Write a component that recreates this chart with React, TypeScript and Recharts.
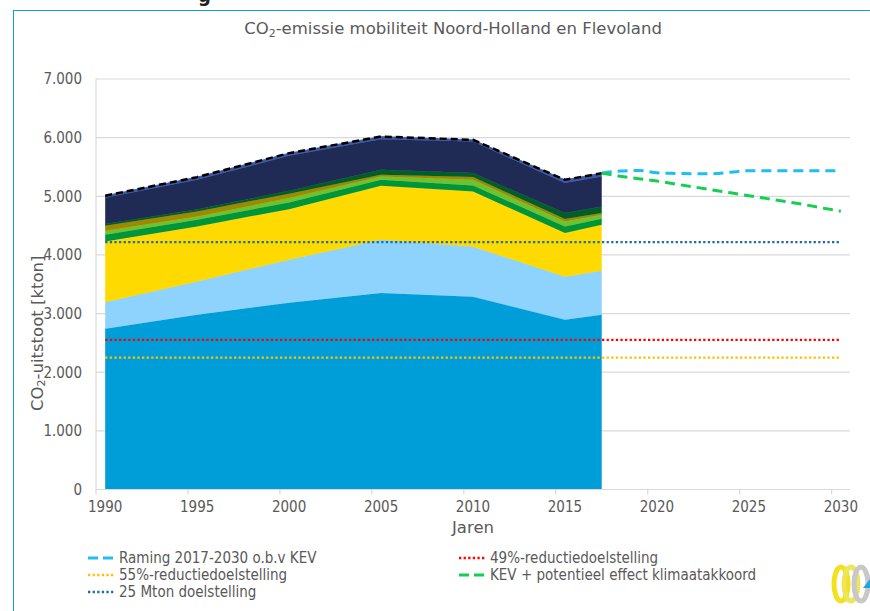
import React from 'react';
import { ComposedChart, Area, Line, XAxis, YAxis, CartesianGrid } from 'recharts';

// ---- data ----
const historicYears = [1990, 1995, 2000, 2005, 2010, 2015, 2017];
const projectionYears = [2017, 2018, 2019, 2020, 2021, 2022, 2023, 2024, 2025, 2026, 2027, 2028, 2029, 2030];
const labelYears = [1990, 1995, 2000, 2005, 2010, 2015, 2020, 2025, 2030];
const xDomain = [1989.5, 2030.5];
const yTicks = [0, 1000, 2000, 3000, 4000, 5000, 6000, 7000];

const laag1 = [2743, 2980, 3185, 3350, 3288, 2896, 2981];
const laag2 = [448, 569, 733, 909, 852, 734, 749];
const laag3 = [1039, 937, 863, 920, 943, 742, 784];
const laag4 = [114, 114, 113, 102, 101, 114, 103];
const laag5 = [68, 57, 75, 56, 97, 85, 68];
const laag6 = [85, 85, 74, 29, 46, 40, 28];
const laag7 = [29, 39, 51, 85, 68, 102, 114];
const laag8 = [450, 500, 596, 523, 539, 512, 511];
const laag9 = [34, 46, 46, 45, 29, 56, 57];

const raming = [5395, 5430, 5440, 5400, 5390, 5385, 5385, 5410, 5435, 5435, 5435, 5435, 5435, 5435];
const kevKlimaat = [5395, 5340, 5300, 5260, 5210, 5160, 5110, 5060, 5010, 4960, 4910, 4860, 4800, 4745];

const doel49 = 2550;
const doel55 = 2250;
const doel25Mton = 4220;

const legendItems = [
  { key: 'raming', name: 'Raming 2017-2030 o.b.v KEV' },
  { key: 'doel49', name: '49%-reductiedoelstelling' },
  { key: 'doel55', name: '55%-reductiedoelstelling' },
  { key: 'kev', name: 'KEV + potentieel effect klimaatakkoord' },
  { key: 'doel25', name: '25 Mton doelstelling' },
];

// ---- styles ----
const layers = [
  { key: 'laag1', values: laag1, color: '#009ED8' },
  { key: 'laag2', values: laag2, color: '#8DD3FD' },
  { key: 'laag3', values: laag3, color: '#FFDA00' },
  { key: 'laag4', values: laag4, color: '#00953A' },
  { key: 'laag5', values: laag5, color: '#6EC22E' },
  { key: 'laag6', values: laag6, color: '#A08800' },
  { key: 'laag7', values: laag7, color: '#005F28' },
  { key: 'laag8', values: laag8, color: '#1F2A55' },
  { key: 'laag9', values: laag9, color: '#3B57A6' },
];

const lineStyles: Record<string, { color: string; dash: string; width: number }> = {
  raming: { color: '#1EBEF2', dash: '10 6', width: 3 },
  kev: { color: '#14D050', dash: '10 6', width: 3 },
  doel49: { color: '#FF0000', dash: '2.3 2.3', width: 2.3 },
  doel55: { color: '#FFC000', dash: '2.3 2.3', width: 2.3 },
  doel25: { color: '#1F6E9E', dash: '2.3 2.3', width: 2.3 },
};

const allYears = Array.from(new Set([...historicYears, ...projectionYears])).sort((a, b) => a - b);

const rows = allYears.map((year) => {
  const hi = historicYears.indexOf(year);
  const pi = projectionYears.indexOf(year);
  const row: Record<string, number | null> = { year };
  let total = 0;
  layers.forEach((l) => {
    const v = hi >= 0 ? l.values[hi] : null;
    row[l.key] = v;
    if (v != null) total += v;
  });
  row.totaal = hi >= 0 ? total : null;
  row.raming = pi >= 0 ? raming[pi] : null;
  row.kev = pi >= 0 ? kevKlimaat[pi] : null;
  row.doel49 = doel49;
  row.doel55 = doel55;
  row.doel25 = doel25Mton;
  return row;
});

const FONT = '"DejaVu Sans Condensed", "DejaVu Sans", sans-serif';
const FONT_WIDE = '"DejaVu Sans", sans-serif';
const TEXT = '#595959';
const GRID = '#D9D9D9';
const X_TICK_SIZE = 6;
const X_TICK_MARGIN = 6;

const fmt = (v: number) => String(v).replace(/\B(?=(\d{3})+(?!\d))/g, '.');

const XTick = (props: any) => {
  const { x, y, payload } = props;
  const axisWidth = typeof props.width === 'number' && props.width > 0 ? props.width : 754;
  const half = axisWidth / (xDomain[1] - xDomain[0]) / 2;
  const axisY = y - X_TICK_SIZE - X_TICK_MARGIN;
  return (
    <g>
      <line x1={x - half} x2={x - half} y1={axisY} y2={axisY + 5} stroke={GRID} strokeWidth={1.2} />
      <text x={x} y={y} dy="0.71em" textAnchor="middle" fill={TEXT} fontSize={15} fontFamily={FONT}>
        {payload.value}
      </text>
    </g>
  );
};

const YLabel = (props: any) => {
  const vb = props.viewBox || { x: 0, y: 0, width: 0, height: 0 };
  const cx = vb.x + 37;
  const cy = vb.y + vb.height / 2 + 49;
  return (
    <text
      x={cx}
      y={cy}
      transform={`rotate(-90 ${cx} ${cy})`}
      textAnchor="middle"
      dominantBaseline="central"
      fill={TEXT}
      fontSize={16.5}
      fontFamily={FONT_WIDE}
    >
      CO<tspan fontSize={11} dy={4}>2</tspan>
      <tspan dy={-4}>-uitstoot [kton]</tspan>
    </text>
  );
};

const XLabel = (props: any) => {
  const vb = props.viewBox || { x: 0, y: 0, width: 0, height: 0 };
  return (
    <text x={vb.x + vb.width / 2} y={vb.y + 43} textAnchor="middle" fill={TEXT} fontSize={16.5} fontFamily={FONT_WIDE}>
      Jaren
    </text>
  );
};

const LegendIcon = ({ k }: { k: string }) => {
  const s = lineStyles[k];
  return (
    <svg width={30} height={10} style={{ display: 'block', marginRight: 2 }}>
      <line x1={1} y1={5} x2={28} y2={5} stroke={s.color} strokeWidth={s.width} strokeDasharray={s.dash === '10 6' ? '10 5' : s.dash} />
    </svg>
  );
};

const LegendRow = ({ item }: { item: { key: string; name: string } }) => (
  <div style={{ display: 'flex', alignItems: 'center', height: 17 }}>
    <LegendIcon k={item.key} />
    <span>{item.name}</span>
  </div>
);

export default function App() {
  const col1 = [legendItems[0], legendItems[2], legendItems[4]];
  const col2 = [legendItems[1], legendItems[3]];
  return (
    <div
      style={{
        position: 'absolute',
        left: 0,
        top: 0,
        width: 870,
        height: 611,
        background: '#fff',
        overflow: 'hidden',
        fontFamily: FONT,
        color: TEXT,
      }}
    >
      {/* clipped heading fragment from the page above */}
      <div style={{ position: 'absolute', left: 198, top: -17, fontSize: 20, fontWeight: 'bold', color: '#222', fontFamily: FONT }}>g</div>
      {/* frame */}
      <div style={{ position: 'absolute', left: 13, top: 10, width: 870, height: 620, borderLeft: '1.5px solid #0AA0DC', borderTop: '1.5px solid #0AA0DC' }} />

      <div style={{ position: 'absolute', left: 0, top: 0 }}>
        <ComposedChart width={870} height={611} data={rows} margin={{ top: 79, right: 20, left: 0, bottom: 81.5 }}>
          <CartesianGrid vertical={false} stroke={GRID} strokeWidth={1.2} />
          <XAxis
            dataKey="year"
            type="number"
            domain={xDomain}
            ticks={labelYears}
            height={40}
            axisLine={{ stroke: GRID, strokeWidth: 1.2 }}
            tickLine={false}
            tickSize={X_TICK_SIZE}
            tickMargin={X_TICK_MARGIN}
            interval={0}
            tick={<XTick />}
            label={{ content: XLabel }}
          />
          <YAxis
            domain={[0, 7000]}
            ticks={yTicks}
            width={96}
            tickFormatter={fmt}
            axisLine={{ stroke: GRID, strokeWidth: 1.2 }}
            tickLine={false}
            tickSize={6}
            tickMargin={8}
            tick={{ fill: TEXT, fontSize: 15, fontFamily: FONT }}
            label={{ content: YLabel }}
          />
          <YAxis
            yAxisId="right"
            orientation="right"
            width={0}
            domain={[0, 7000]}
            tick={false}
            tickLine={false}
            axisLine={{ stroke: GRID, strokeWidth: 2 }}
          />
          {layers.map((l) => (
            <Area
              key={l.key}
              dataKey={l.key}
              stackId="hist"
              type="linear"
              fill={l.color}
              fillOpacity={1}
              stroke={l.color}
              strokeWidth={0.8}
              isAnimationActive={false}
              dot={false}
              activeDot={false}
            />
          ))}
          <Line dataKey="totaal" type="linear" stroke="#000" strokeWidth={2.5} strokeDasharray="7 4" dot={false} activeDot={false} isAnimationActive={false} />
          <Line dataKey="raming" type="monotone" stroke={lineStyles.raming.color} strokeWidth={3} strokeDasharray={lineStyles.raming.dash} dot={false} activeDot={false} isAnimationActive={false} />
          <Line dataKey="kev" type="linear" stroke={lineStyles.kev.color} strokeWidth={3} strokeDasharray={lineStyles.kev.dash} dot={false} activeDot={false} isAnimationActive={false} />
          <Line dataKey="doel49" type="linear" stroke={lineStyles.doel49.color} strokeWidth={lineStyles.doel49.width} strokeDasharray={lineStyles.doel49.dash} dot={false} activeDot={false} isAnimationActive={false} />
          <Line dataKey="doel55" type="linear" stroke={lineStyles.doel55.color} strokeWidth={lineStyles.doel55.width} strokeDasharray={lineStyles.doel55.dash} dot={false} activeDot={false} isAnimationActive={false} />
          <Line dataKey="doel25" type="linear" stroke={lineStyles.doel25.color} strokeWidth={lineStyles.doel25.width} strokeDasharray={lineStyles.doel25.dash} dot={false} activeDot={false} isAnimationActive={false} />
        </ComposedChart>
      </div>

      {/* title */}
      <div style={{ position: 'absolute', left: 453, top: 19, transform: 'translateX(-50%)', whiteSpace: 'nowrap', fontSize: 16.5, color: TEXT, fontFamily: FONT_WIDE }}>
        CO<sub style={{ fontSize: 11, verticalAlign: '-3px' }}>2</sub>-emissie mobiliteit Noord-Holland en Flevoland
      </div>

      {/* legend */}
      <div style={{ position: 'absolute', left: 87, top: 549, fontSize: 15 }}>
        {col1.map((it) => (
          <LegendRow key={it.key} item={it} />
        ))}
      </div>
      <div style={{ position: 'absolute', left: 458, top: 549, fontSize: 15 }}>
        {col2.map((it) => (
          <LegendRow key={it.key} item={it} />
        ))}
      </div>

      {/* logo */}
      <svg style={{ position: 'absolute', left: 825, top: 562 }} width={45} height={46}>
        <ellipse cx={16} cy={22} rx={7} ry={17} fill="none" stroke="#F2E21C" strokeWidth={5} />
        <ellipse cx={26} cy={22} rx={7} ry={17} fill="none" stroke="#EDE65A" strokeWidth={5} />
        <ellipse cx={36} cy={22} rx={7} ry={17} fill="none" stroke="#C8C8C8" strokeWidth={5} />
        <polygon points="38,26 45,17 45,26" fill="#1AA6E6" />
      </svg>
    </div>
  );
}
